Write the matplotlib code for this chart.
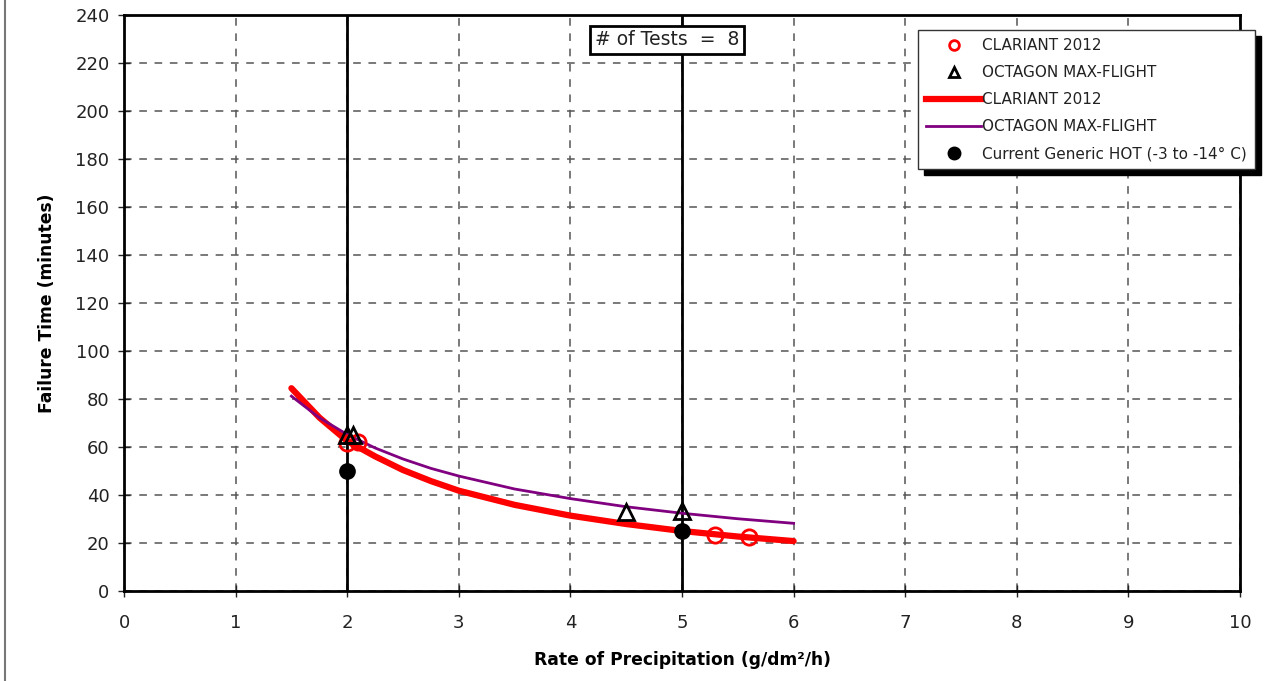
import matplotlib
matplotlib.use("Agg")
import matplotlib.pyplot as plt
from matplotlib.lines import Line2D

# --- data ---
clariant_pts_x = [2.0, 2.1, 5.3, 5.6]
clariant_pts_y = [61.5, 62.2, 23.3, 22.6]
octagon_pts_x = [2.0, 2.05, 4.5, 5.0]
octagon_pts_y = [65.0, 65.0, 32.8, 33.5]
generic_x = [2.0, 5.0]
generic_y = [50.0, 25.0]

curve_x = [1.5, 1.75, 2.0, 2.25, 2.5, 2.75, 3.0, 3.5, 4.0, 4.5, 5.0, 5.5, 6.0]
clariant_curve_y = [84.5, 72.3, 62.5, 56.1, 50.4, 45.8, 41.8, 35.9, 31.4, 27.9, 25.0, 22.7, 20.8]
octagon_curve_y = [81.2, 72.2, 65.2, 59.6, 55.0, 51.1, 47.9, 42.5, 38.5, 35.1, 32.4, 30.1, 28.2]

ref_lines_x = [2, 5]
x_ticks = list(range(0, 11))
y_ticks = list(range(0, 241, 20))
n_tests = 8

plt.rcParams['font.family'] = ['DejaVu Sans']

fig = plt.figure(figsize=(12.84, 6.81), dpi=100)
ax = fig.add_axes([124/1284, 1-591/681, (1240-124)/1284, (591-15)/681])

ax.set_xlim(0, 10)
ax.set_ylim(0, 240)
ax.set_xticks(x_ticks)
ax.set_yticks(y_ticks)
ax.grid(True, linestyle=(0, (5, 5)), color='#555555', linewidth=1.1)
ax.set_axisbelow(True)
for s in ax.spines.values():
    s.set_linewidth(2)
    s.set_color('black')
ax.tick_params(axis='both', direction='inout', length=9, width=1, labelsize=13, colors='#222222')
ax.tick_params(axis='x', pad=12)
ax.tick_params(axis='y', pad=6)

for xv in ref_lines_x:
    ax.axvline(xv, color='black', linewidth=2, zorder=2)

ax.plot(curve_x, clariant_curve_y, color='red', linewidth=4.5, zorder=3, solid_capstyle='round',
        label='CLARIANT 2012')
ax.plot(curve_x, octagon_curve_y, color='#800080', linewidth=2, zorder=3, label='OCTAGON MAX-FLIGHT')

h1, = ax.plot(clariant_pts_x, clariant_pts_y, linestyle='none', marker='o', markersize=11,
              markerfacecolor='none', markeredgecolor='red', markeredgewidth=2, zorder=4)
h2, = ax.plot(octagon_pts_x, octagon_pts_y, linestyle='none', marker='^', markersize=12,
              markerfacecolor='none', markeredgecolor='black', markeredgewidth=2, zorder=5)
h5, = ax.plot(generic_x, generic_y, linestyle='none', marker='o', markersize=11,
              color='black', zorder=5)

ax.set_xlabel('Rate of Precipitation (g/dm²/h)', fontsize=12.3, fontweight='bold', labelpad=14)
ax.set_ylabel('Failure Time (minutes)', fontsize=12.3, fontweight='bold', labelpad=14)

ax.text(0.4866, 0.9566, f'# of Tests  =  {n_tests}', transform=ax.transAxes, ha='center', va='center',
        fontsize=13.5, color='#222222', zorder=6,
        bbox=dict(boxstyle='square,pad=0.25', facecolor='white', edgecolor='black', linewidth=2))

lh1 = Line2D([], [], linestyle='none', marker='o', markersize=7, markerfacecolor='none',
             markeredgecolor='red', markeredgewidth=2)
lh2 = Line2D([], [], linestyle='none', marker='^', markersize=7, markerfacecolor='none',
             markeredgecolor='black', markeredgewidth=2)
lh3 = Line2D([], [], color='red', linewidth=4.5)
lh4 = Line2D([], [], color='#800080', linewidth=2)
lh5 = Line2D([], [], linestyle='none', marker='o', markersize=9, color='black')
leg = fig.legend([lh1, lh2, lh3, lh4, lh5],
                 ['CLARIANT 2012', 'OCTAGON MAX-FLIGHT', 'CLARIANT 2012', 'OCTAGON MAX-FLIGHT',
                  'Current Generic HOT (-3 to -14° C)'],
                 loc='upper left', bbox_to_anchor=(918/1284, 1-30/681), bbox_transform=fig.transFigure,
                 borderaxespad=0, fontsize=11, labelspacing=0.78, handlelength=3.6, handletextpad=0.05,
                 fancybox=False, framealpha=1, edgecolor='#333333',
                 shadow={'ox': 4, 'oy': -4, 'color': 'black', 'alpha': 1},
                 borderpad=0.55)
for t in leg.get_texts():
    t.set_color('#222222')

fig.add_artist(Line2D([5/1284, 5/1284], [0, 1], color='#777777', linewidth=1.5,
                      transform=fig.transFigure))

fig.savefig('out.png', dpi=100)
